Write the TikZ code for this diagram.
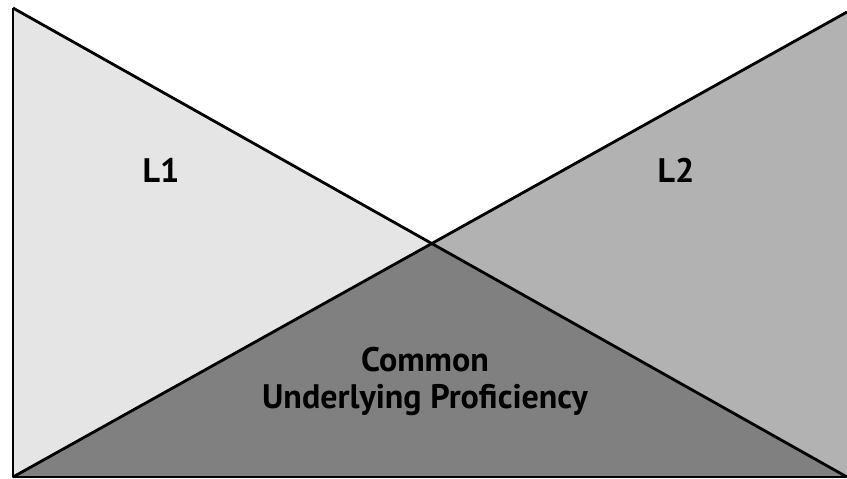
\documentclass[tikz,border=0pt]{standalone}
\usepackage{fontspec}
\setmainfont{PT Sans}
\usetikzlibrary{positioning}

\tikzset{
    langtext/.style={font=\bfseries\fontsize{17}{18.5}\selectfont, align=center, inner sep=0pt},
}

\begin{document}
\begin{tikzpicture}[x=0.5pt,y=-0.5pt,line width=1.4pt,line join=round]
    \useasboundingbox (0,0) rectangle (847,478);
    \clip (0,0) rectangle (847,478);

    % Corners and crossing point
    \coordinate (tl) at (13,8);
    \coordinate (bl) at (13,477);
    \coordinate (tr) at (847,12);
    \coordinate (br) at (847,477);
    \coordinate (mid) at (intersection of tl--br and bl--tr);

    % Shaded areas
    \fill [black!10] (tl) -- (mid) -- (bl) -- cycle;
    \fill [black!30] (tr) -- (br) -- (mid) -- cycle;
    \fill [black!50] (bl) -- (mid) -- (br) -- cycle;

    % Outline and diagonals
    \draw (tl) -- (bl) -- (br);
    \draw (tl) -- (br);
    \draw (bl) -- (tr);

    % Labels
    \node [langtext] (lone) at (161,170) {L1};
    \node [langtext] (ltwo) at (676,170) {L2};
    \node [langtext] (cup) at (425,381) {Common\\Underlying Proficiency};
\end{tikzpicture}
\end{document}
